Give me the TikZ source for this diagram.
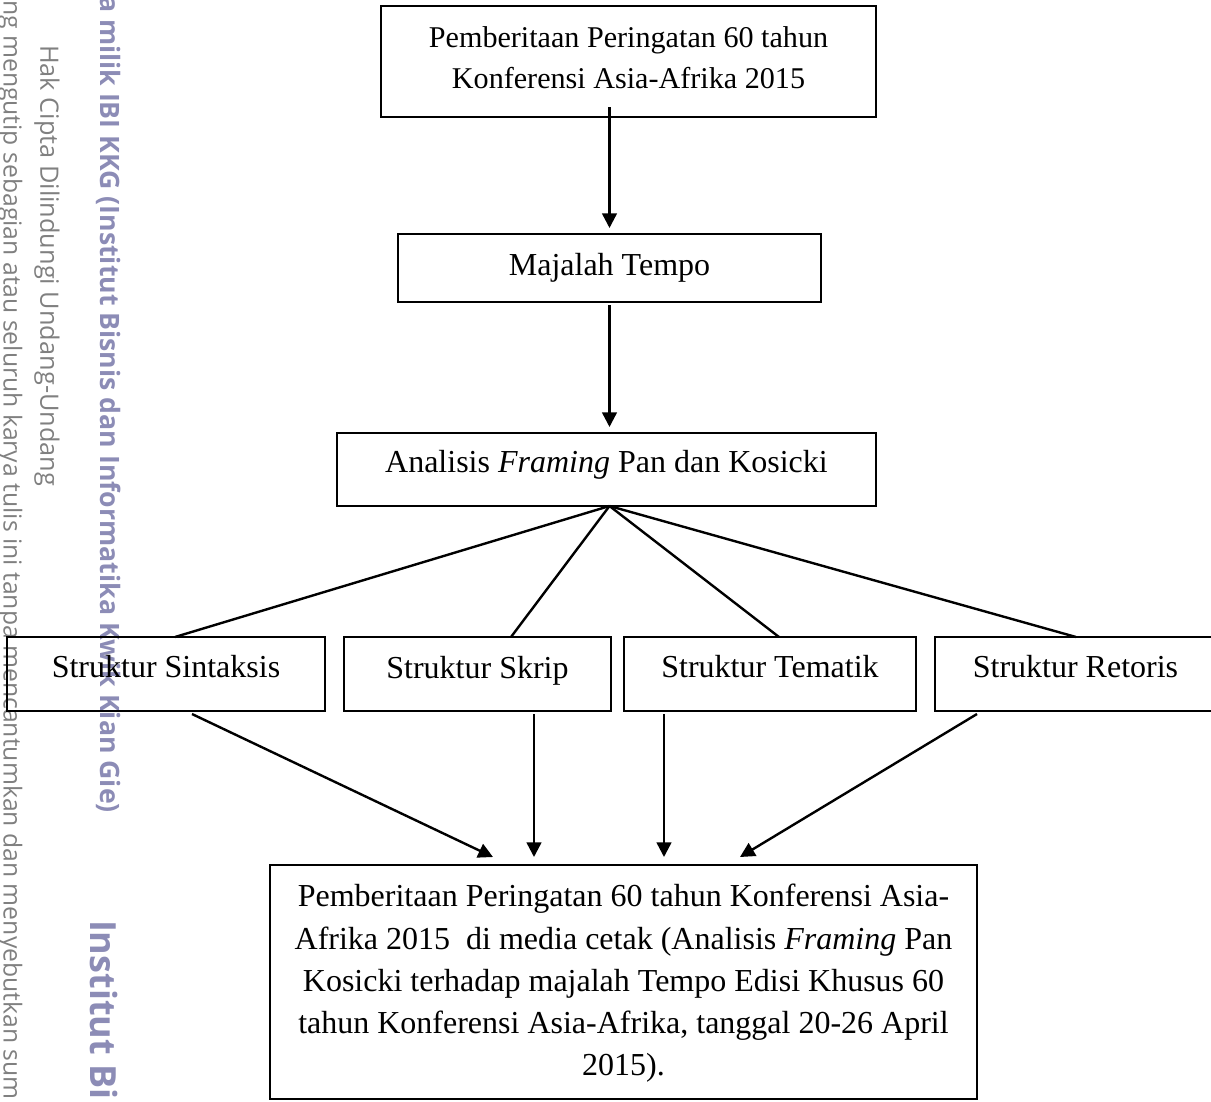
\documentclass[tikz,border=0pt]{standalone}
\usepackage{fontspec}
\setmainfont{Liberation Serif}
\newfontfamily\wmfont{Open Sans}
\usetikzlibrary{arrows.meta,calc}
\definecolor{wmgray}{RGB}{128,128,128}
\definecolor{wmblue}{RGB}{140,140,182}
\newcommand{\bxt}[4]{\parbox[c][#2][c]{#1}{\centering #4\par\vspace{#3}}}
\begin{document}
\begin{tikzpicture}[x=0.75pt,y=-0.75pt,
  box/.style={draw, line width=1.5pt, inner sep=0pt, outer sep=0pt,
    font=\fontsize{24}{31.7}\selectfont},
  arr/.style={line width=1.8pt, -{Triangle[length=11pt,width=11pt]}},
  ln/.style={line width=1.8pt},
  wm/.style={inner sep=0pt, outer sep=0pt, rotate=-90, anchor=west},
  wmreg/.style={wm, text=wmgray, font=\wmfont\fontsize{19}{22}\selectfont},
  wmbold/.style={wm, text=wmblue, font=\wmfont\bfseries\fontsize{20}{24}\selectfont},
  wmbig/.style={wm, text=wmblue, font=\wmfont\bfseries\fontsize{27}{32}\selectfont}]
\useasboundingbox (0,0) rectangle (1211,1101);
\clip (0,0) rectangle (1211,1101);
% watermark
\node[wmreg, font=\wmfont\fontsize{18.55}{22}\selectfont] (w1) at (10,0) {ng mengutip sebagian atau seluruh karya tulis ini tanpa mencantumkan dan menyebutkan sum};
\node[wmreg] (w2) at (47,45) {Hak Cipta Dilindungi Undang-Undang};
\node[wmbold] (w3) at (109,-4) {a milik IBI KKG (Institut Bisnis dan Informatika Kwik Kian Gie)};
\node[wmbig] (w4) at (104,920) {Institut Bi};
% boxes
\node[box, font=\fontsize{22.6}{30.6}\selectfont] (n1) at (628.5,61.5) {\bxt{371.25pt}{83.25pt}{6pt}{Pemberitaan Peringatan 60 tahun\\Konferensi Asia-Afrika 2015}};
\node[box] (n2) at (609.5,268) {\bxt{317.25pt}{51pt}{0pt}{Majalah Tempo}};
\node[box] (n3) at (606.5,469.5) {\bxt{404.25pt}{54.75pt}{6.75pt}{Analisis \textit{Framing} Pan dan Kosicki}};
\node[box] (s1) at (166,674) {\bxt{238.5pt}{55.5pt}{10.5pt}{Struktur Sintaksis}};
\node[box] (s2) at (477.5,674) {\bxt{200.25pt}{55.5pt}{5.5pt}{Struktur Skrip}};
\node[box] (s3) at (770,674) {\bxt{219pt}{55.5pt}{10.5pt}{Struktur Tematik}};
\node[box] (s4) at (1075.5,674) {\bxt{210.75pt}{55.5pt}{10.5pt}{Struktur Retoris}};
\node[box] (res) at (623.5,982) {\bxt{530.25pt}{175.5pt}{-2.25pt}{Pemberitaan Peringatan 60 tahun Konferensi Asia-\\Afrika 2015~ di media cetak (Analisis \textit{Framing} Pan\\Kosicki terhadap majalah Tempo Edisi Khusus 60\\tahun Konferensi Asia-Afrika, tanggal 20-26 April\\2015).}};
% connectors
\draw[arr, shorten >=4.5pt] ($(n1.south -| n2.north)+(0,-10)$) -- (n2.north);
\draw[arr, shorten <=2.25pt, shorten >=4.5pt] (n2.south) -- (n2.south |- n3.north);
\coordinate (apex) at (n2.south |- n3.south);
\draw[ln] (apex) -- ($(s1.north)+(9,0)$);
\draw[ln] (apex) -- ($(s2.north)+(33.5,0)$);
\draw[ln] (apex) -- ($(s3.north)+(9,0)$);
\draw[ln] (apex) -- ($(s4.north)+(0.5,0)$);
\draw[arr] ($(s1.south)+(26,3)$) -- ($(res.north)+(-130.5,-8)$);
\draw[arr] ($(s2.south)+(56.5,3)$) -- ($(res.north)+(-89.5,-8)$);
\draw[arr] ($(s3.south)+(-106,3)$) -- ($(res.north)+(40.5,-8)$);
\draw[arr] ($(s4.south)+(-98.5,3)$) -- ($(res.north)+(116.5,-8)$);
\end{tikzpicture}
\end{document}
